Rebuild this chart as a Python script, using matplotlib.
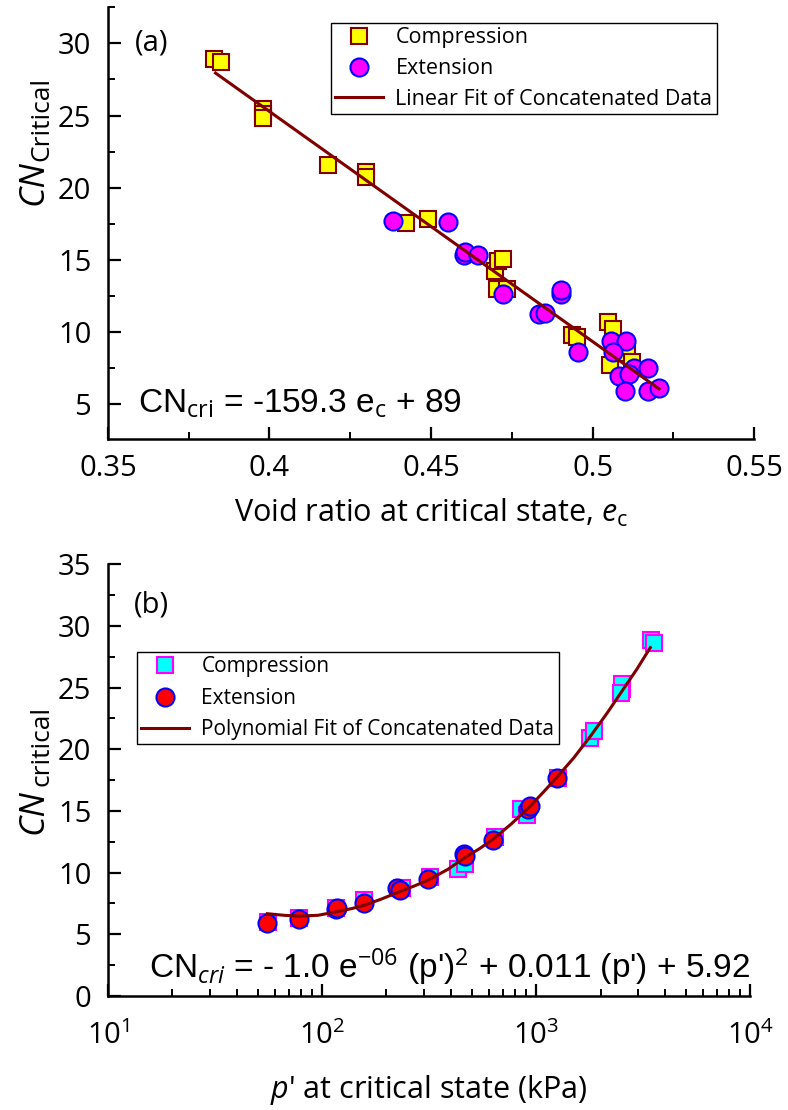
import matplotlib
matplotlib.use("Agg")
import matplotlib.pyplot as plt
from matplotlib.ticker import MultipleLocator, FixedLocator, FuncFormatter

plt.rcParams["font.family"] = ["Open Sans", "DejaVu Sans"]
plt.rcParams["mathtext.fontset"] = "custom"
plt.rcParams["mathtext.rm"] = "Open Sans"
plt.rcParams["mathtext.it"] = "Open Sans:italic"

# ---- panel (a): CN vs void ratio ----
a_comp_e = [0.3829, 0.3849, 0.3981, 0.3981, 0.3981, 0.4180, 0.4300, 0.4300,
            0.4422, 0.4491, 0.4698, 0.4707, 0.4723, 0.4703, 0.4735, 0.4937,
            0.4952, 0.5048, 0.5063, 0.5054, 0.5107, 0.5122]
a_comp_cn = [28.89, 28.72, 25.45, 25.10, 24.83, 21.58, 21.12, 20.77,
             17.57, 17.80, 14.25, 14.94, 15.08, 13.00, 13.00, 9.77,
             9.63, 10.67, 10.25, 7.70, 8.53, 7.90]
a_ext_e = [0.4382, 0.4552, 0.4601, 0.4605, 0.4644, 0.4722, 0.4833, 0.4853,
           0.4903, 0.4903, 0.4955, 0.5056, 0.5105, 0.5062, 0.5128, 0.5173,
           0.5082, 0.5114, 0.5101, 0.5173, 0.5206]
a_ext_cn = [17.69, 17.64, 15.32, 15.55, 15.32, 12.65, 11.26, 11.31,
            12.65, 12.90, 8.60, 9.41, 9.41, 8.60, 7.55, 7.55,
            6.97, 7.10, 5.93, 5.93, 6.16]
a_fit_slope = -159.3
a_fit_intercept = 89.0
a_fit_range = [0.3833, 0.5206]

# ---- panel (b): CN vs p' ----
b_comp_p = [56, 78, 116, 157, 236, 320, 434, 464, 643, 853, 908, 1268,
            1782, 1866, 2523, 2523, 2480, 3444, 3556]
b_comp_cn = [6.0, 6.3, 7.1, 7.78, 8.75, 9.64, 10.32, 10.67, 12.88, 15.13, 14.66, 17.66,
             20.94, 21.49, 24.86, 25.27, 24.60, 28.84, 28.60]
b_ext_p = [55.6, 78.0, 115.6, 118, 157, 225, 230.6, 313, 460, 464, 629, 920, 935, 1253]
b_ext_cn = [5.94, 6.27, 7.03, 7.15, 7.51, 8.75, 8.59, 9.46, 11.50, 11.35, 12.65, 15.13, 15.40, 17.70]
b_fit_p = [55.6, 66.6, 78.0, 95.6, 115.5, 137.2, 157.1, 188.2, 230.5, 270, 313.5,
           387.4, 464.2, 543.7, 628.1, 762.6, 934.6, 1094, 1253, 1502, 1798,
           2154, 2523, 2955, 3415]
b_fit_cn = [6.67, 6.54, 6.48, 6.54, 6.81, 7.08, 7.35, 7.84, 8.46, 8.92, 9.40,
            10.27, 11.21, 11.94, 12.70, 13.92, 15.35, 16.62, 17.75, 19.32, 21.08,
            22.97, 24.73, 26.49, 28.24]

fit_color = "#800000"
tick_fs = 21
W, H = 788, 1110


def style_axes(ax):
    for side in ("top", "right"):
        ax.spines[side].set_visible(False)
    for side in ("left", "bottom"):
        ax.spines[side].set_linewidth(1.8)
    ax.tick_params(which="major", direction="in", length=9, width=1.6,
                   labelsize=tick_fs)
    ax.tick_params(which="minor", direction="in", length=5, width=1.4)
    ax.tick_params(axis="y", which="major", pad=12)
    ax.tick_params(axis="x", which="major", pad=11)


def ylabel_px(fig, x, y_cn, y_sub, sub):
    # italic CN with a larger-than-mathtext subscript, rotated
    fig.text(x / W, 1 - y_cn / H, "CN", rotation=90, fontsize=25, style="italic",
             ha="center", va="center")
    fig.text((x + 9) / W, 1 - y_sub / H, sub, rotation=90, fontsize=19,
             ha="center", va="center")


fig = plt.figure(figsize=(W / 100, H / 100), dpi=100)
ax1 = fig.add_axes([0.137, 0.6045, 0.820, 0.389])
ax2 = fig.add_axes([0.137, 0.1027, 0.815, 0.389])

# (a)
ax1.plot(a_comp_e, a_comp_cn, "s", ms=11.5, mfc="#FFFF00", mec=fit_color, mew=1.5,
         label="Compression", zorder=3)
ax1.plot(a_ext_e, a_ext_cn, "o", ms=13, mfc="#FF00FF", mec="#0000FF", mew=1.5,
         label="Extension", zorder=4)
fit_y = [a_fit_slope * e + a_fit_intercept for e in a_fit_range]
ax1.plot(a_fit_range, fit_y, color=fit_color, lw=2.2,
         label="Linear Fit of Concatenated Data", zorder=5)
ax1.set_xlim(0.35, 0.55)
ax1.set_ylim(2.6, 32.5)
ax1.xaxis.set_major_locator(FixedLocator([0.35, 0.4, 0.45, 0.5, 0.55]))
ax1.xaxis.set_minor_locator(MultipleLocator(0.025))
ax1.xaxis.set_major_formatter(FuncFormatter(lambda v, p: "%g" % round(v, 3)))
ax1.yaxis.set_major_locator(MultipleLocator(5))
ax1.yaxis.set_minor_locator(MultipleLocator(2.5))
style_axes(ax1)
ax1.set_xlabel(r"Void ratio at critical state, $e_{\mathrm{c}}$", fontsize=22, labelpad=10)
ylabel_px(fig, 33, 183, 119, "Critical")
ax1.text(0.042, 0.917, "(a)", transform=ax1.transAxes, fontsize=21, va="center")
ax1.text(0.046, 0.062, r"CN$_{\mathrm{cri}}$ = -159.3 e$_{\mathrm{c}}$ + 89",
         transform=ax1.transAxes, fontsize=24, va="baseline",
         family=["Liberation Sans", "DejaVu Sans"])
leg1 = ax1.legend(loc="upper left", bbox_to_anchor=(0.345, 0.963), fontsize=15.5,
                  frameon=True, fancybox=False, edgecolor="black", framealpha=1,
                  handlelength=2.2, handletextpad=0.6, labelspacing=0.45,
                  borderpad=0.2, borderaxespad=0)
leg1.get_frame().set_linewidth(1.0)

# (b)
ax2.plot(b_comp_p, b_comp_cn, "s", ms=11.5, mfc="#00FFFF", mec="#FF00FF", mew=1.5,
         label="Compression", zorder=3)
ax2.plot(b_ext_p, b_ext_cn, "o", ms=13, mfc="#FF0000", mec="#0000FF", mew=1.5,
         label="Extension", zorder=4)
ax2.plot(b_fit_p, b_fit_cn, color=fit_color, lw=2.2,
         label="Polynomial Fit of Concatenated Data", zorder=5)
ax2.set_xscale("log")
ax2.set_xlim(10, 1e4)
ax2.set_ylim(0, 35)
ax2.yaxis.set_major_locator(MultipleLocator(5))
ax2.yaxis.set_minor_locator(MultipleLocator(2.5))
style_axes(ax2)
ax2.tick_params(axis="x", which="major", pad=18)
ax2.set_xlabel(r"$p$' at critical state (kPa)", fontsize=22, labelpad=16)
ylabel_px(fig, 33, 812, 746, "critical")
ax2.text(0.040, 0.905, "(b)", transform=ax2.transAxes, fontsize=21, va="center")
ax2.text(0.064, 0.042,
         r"CN$_{cri}$ = - 1.0 e$^{-06}$ (p')$^{2}$ + 0.011 (p') + 5.92",
         transform=ax2.transAxes, fontsize=24, va="baseline",
         family=["Liberation Sans", "DejaVu Sans"])
leg2 = ax2.legend(loc="upper left", bbox_to_anchor=(0.045, 0.796), fontsize=15,
                  frameon=True, fancybox=False, edgecolor="black", framealpha=1,
                  handlelength=2.3, handletextpad=0.6, labelspacing=0.5,
                  borderpad=0.2, borderaxespad=0)
leg2.get_frame().set_linewidth(1.0)

fig.savefig("out.png", dpi=100)
plt.close(fig)
